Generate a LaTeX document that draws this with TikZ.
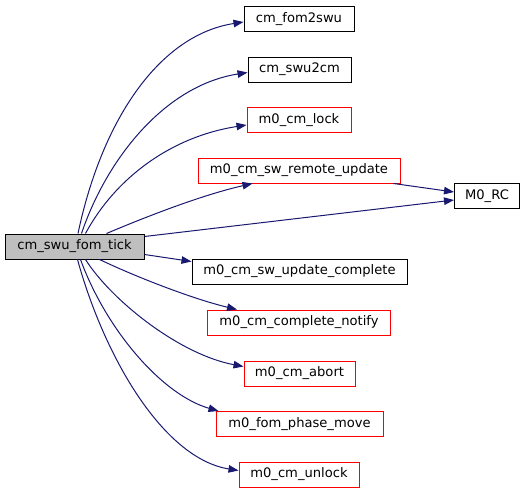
\documentclass[tikz,border=0pt]{standalone}
\usepackage{fontspec}
\setmainfont{DejaVu Sans}
\usetikzlibrary{arrows.meta,calc}
\definecolor{edgeblue}{HTML}{191970}
\definecolor{tickgray}{HTML}{BFBFBF}
\begin{document}
\begin{tikzpicture}[x=1pt,y=-1pt,
  box/.style={draw=black,line width=1pt,inner sep=0pt,minimum height=25pt,font=\fontsize{13.1}{15}\selectfont,fill=white},
  redbox/.style={box,draw=red},
  e/.style={draw=edgeblue,line width=1pt,-{Triangle[length=10pt,width=7.5pt]}}]
\useasboundingbox (0,0) rectangle (525,493);
\node[box,fill=tickgray,minimum width=139pt] (tick) at (74.5,246.5) {cm\_swu\_fom\_tick};
\node[box,minimum width=110pt] (fom2swu) at (299,19) {cm\_fom2swu};
\node[box,minimum width=103pt] (swu2cm) at (299.5,69.5) {cm\_swu2cm};
\node[redbox,minimum width=104pt] (lock) at (299,120) {m0\_cm\_lock};
\node[redbox,minimum width=202pt] (remote) at (299,170.5) {m0\_cm\_sw\_remote\_update};
\node[box,minimum width=65pt] (rc) at (487,196) {M0\_RC};
\node[box,minimum width=215pt] (upd) at (299.5,271.5) {m0\_cm\_sw\_update\_complete};
\node[redbox,minimum width=183pt] (notify) at (299,322.5) {m0\_cm\_complete\_notify};
\node[redbox,minimum width=111pt] (abort) at (299.5,373.5) {m0\_cm\_abort};
\node[redbox,minimum width=167pt] (phase) at (299.5,424) {m0\_fom\_phase\_move};
\node[redbox,minimum width=120pt] (unlock) at (299,474.5) {m0\_cm\_unlock};

\draw[e] ($(tick.north west)+(73.5,0)$) .. controls +(24,-114) and +(-84,13) .. ($(fom2swu.west)+(0,3)$);
\draw[e] ($(tick.north west)+(77,0)$) .. controls +(25,-74) and +(-83,13) .. ($(swu2cm.west)+(0,3)$);
\draw[e] ($(tick.north west)+(81,0)$) .. controls +(29,-54) and +(-77,12) .. ($(lock.west)+(0,5)$);
\draw[e] ($(tick.north west)+(102,0)$) .. controls +(33,-14) and +(-53,12) .. ($(remote.south west)+(55,0)$);
\draw[e] ($(tick.north east)+(0,3)$) -- ($(rc.west)+(0,4)$);
\draw[e] ($(remote.south east)+(-7,0)$) -- ($(rc.west)+(0,-4)$);
\draw[e] ($(tick.south east)+(0,-5)$) -- ($(upd.west)+(0,-10)$);
\draw[e] ($(tick.south west)+(95,0)$) .. controls +(40,19) and +(-42,-10) .. ($(notify.north west)+(30,0)$);
\draw[e] ($(tick.south west)+(81,0)$) .. controls +(26,41) and +(-64,-12) .. ($(abort.west)+(0,-7)$);
\draw[e] ($(tick.south west)+(76,0)$) .. controls +(26,71) and +(-56,-16) .. ($(phase.north west)+(3,0)$);
\draw[e] ($(tick.south west)+(73,0)$) .. controls +(27,98) and +(-75,-12) .. ($(unlock.west)+(0,-4)$);
\end{tikzpicture}
\end{document}
